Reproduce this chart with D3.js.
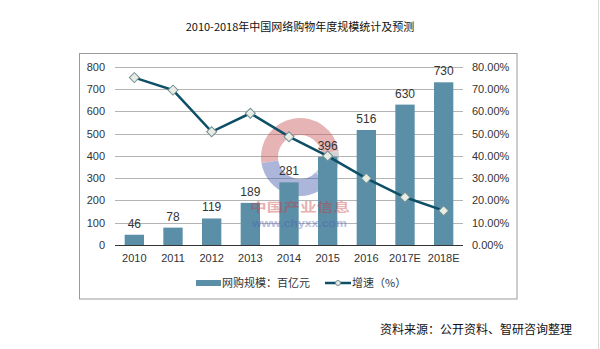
<!DOCTYPE html>
<html><head><meta charset="utf-8">
<script src="https://cdn.jsdelivr.net/npm/d3@7"></script>
<style>body{margin:0;background:#fff}svg{display:block}</style>
</head><body>
<svg id="c" width="600" height="349"></svg>
<script>
const categories = ["2010","2011","2012","2013","2014","2015","2016","2017E","2018E"];
const scaleValues = [46,78,119,189,281,396,516,630,730];
const growthValues = [75.1,69.5,50.8,59.1,48.6,39.9,29.9,21.4,15.4];
const leftTicks = [0,100,200,300,400,500,600,700,800];
const rightTicks = [0,10,20,30,40,50,60,70,80];
const title = "2010-2018年中国网络购物年度规模统计及预测";
const legendBar = "网购规模：百亿元";
const legendLine = "增速（%）";
const source = "资料来源：公开资料、智研咨询整理";

(function(){
const svg = d3.select("#c");
const font = "'Liberation Sans', Arial, sans-serif";
const cjk = "'Noto Sans CJK SC', sans-serif";
const pLeft = 115, pRight = 463, pTop = 66.7, pBottom = 245;

// page border at right
svg.append("line").attr("x1",598.5).attr("x2",598.5).attr("y1",0).attr("y2",349).attr("stroke","#d8d8d8");

svg.append("text").attr("x",300).attr("y",31).attr("text-anchor","middle")
  .attr("font-family",cjk).attr("font-size",11).attr("fill","#111").text(title);

svg.append("rect").attr("x",79.5).attr("y",53.5).attr("width",437.5).attr("height",245.5)
  .attr("fill","none").attr("stroke","#9a9a9a");

const x = d3.scaleBand().domain(categories).range([pLeft,pRight]).paddingInner(0.5).paddingOuter(0.25);
const yL = d3.scaleLinear().domain([0,800]).range([pBottom,pTop]);
const yR = d3.scaleLinear().domain([0,80]).range([pBottom,pTop]);

// gridlines
svg.append("g").selectAll("line").data(leftTicks.slice(1)).join("line")
  .attr("x1",pLeft).attr("x2",pRight).attr("y1",d=>Math.round(yL(d))+0.5).attr("y2",d=>Math.round(yL(d))+0.5)
  .attr("stroke","#b4b4b4");

// left axis labels
const gl = svg.append("g").attr("transform",`translate(${pLeft-10},0)`)
  .call(d3.axisLeft(yL).tickValues(leftTicks).tickSize(0).tickPadding(0));
gl.select(".domain").remove();
gl.selectAll("text").attr("font-family",font).attr("font-size",11).attr("fill","#333");

const gr = svg.append("g").attr("transform",`translate(${pRight+9},0)`)
  .call(d3.axisRight(yR).tickValues(rightTicks).tickSize(0).tickPadding(0).tickFormat(d=>d.toFixed(2)+"%"));
gr.select(".domain").remove();
gr.selectAll("text").attr("font-family",font).attr("font-size",11).attr("fill","#333");

// watermark ring
const wm = svg.append("g").attr("transform","translate(300,157)").attr("opacity",0.45);
const arc = d3.arc().innerRadius(22).outerRadius(39);
wm.append("path").attr("d",arc({startAngle:-Math.PI*0.55,endAngle:Math.PI*0.45})).attr("fill","#c85a5a");
wm.append("path").attr("d",arc({startAngle:-Math.PI*1.25,endAngle:-Math.PI*0.55})).attr("fill","#4a5fb0");
wm.append("path").attr("d",arc({startAngle:Math.PI*0.45,endAngle:Math.PI*0.75})).attr("fill","#a0a0a0");

// bars
svg.append("g").selectAll("rect").data(categories).join("rect")
  .attr("x",d=>x(d)).attr("width",x.bandwidth())
  .attr("y",(d,i)=>yL(scaleValues[i])).attr("height",(d,i)=>pBottom-yL(scaleValues[i]))
  .attr("fill","#5b8fa8");

// baseline axis
svg.append("line").attr("x1",pLeft).attr("x2",pRight).attr("y1",pBottom+0.5).attr("y2",pBottom+0.5).attr("stroke","#333");

// x labels
const gx = svg.append("g").attr("transform",`translate(0,${pBottom})`)
  .call(d3.axisBottom(x).tickSize(0).tickPadding(9));
gx.select(".domain").remove();
gx.selectAll("text").attr("font-family",font).attr("font-size",11).attr("fill","#333");

// bar labels
svg.append("g").selectAll("text").data(categories).join("text")
  .attr("x",d=>x(d)+x.bandwidth()/2).attr("y",(d,i)=>yL(scaleValues[i])-7)
  .attr("text-anchor","middle").attr("font-family",font).attr("font-size",12).attr("fill","#333")
  .text((d,i)=>scaleValues[i]);

// watermark text
const wt = svg.append("g").attr("opacity",0.4);
wt.append("text").attr("x",250).attr("y",211.5).attr("font-family",cjk)
  .attr("font-size",12.5).attr("font-weight","bold").attr("fill","#c83c3c")
  .attr("textLength",100).attr("lengthAdjust","spacingAndGlyphs").text("中国产业信息");
wt.append("text").attr("x",252).attr("y",227).attr("font-family",font)
  .attr("font-size",11).attr("font-weight","bold").attr("fill","#4a5fb0")
  .attr("textLength",95).attr("lengthAdjust","spacingAndGlyphs").text("www.chyxx.com");

// line
const cx = d=>x(d)+x.bandwidth()/2;
const line = d3.line().x((d,i)=>cx(categories[i])).y(d=>yR(d));
svg.append("path").datum(growthValues).attr("d",line).attr("fill","none").attr("stroke","#0d4f66").attr("stroke-width",2.5);
const diamond = d3.symbol().type(d3.symbolSquare).size(50);
svg.append("g").selectAll("path").data(growthValues).join("path")
  .attr("d",diamond).attr("transform",(d,i)=>`translate(${cx(categories[i])},${yR(d)}) rotate(45)`)
  .attr("fill","#e9ece2").attr("stroke","#6f8f96").attr("stroke-width",1);

// legend
const ly = 283;
svg.append("rect").attr("x",196).attr("y",ly-3).attr("width",25).attr("height",6).attr("fill","#5b8fa8");
svg.append("text").attr("x",222).attr("y",ly+4).attr("font-family",cjk).attr("font-size",11).attr("fill","#333").text(legendBar);
svg.append("line").attr("x1",325).attr("x2",351).attr("y1",ly).attr("y2",ly).attr("stroke","#0d4f66").attr("stroke-width",2.5);
svg.append("circle").attr("cx",338).attr("cy",ly).attr("r",2.5).attr("fill","#e9ece2").attr("stroke","#6f8f96");
svg.append("text").attr("x",352).attr("y",ly+4).attr("font-family",cjk).attr("font-size",11).attr("fill","#333").text(legendLine);

svg.append("text").attr("x",572).attr("y",334).attr("text-anchor","end").attr("font-family",cjk)
  .attr("font-size",12).attr("fill","#111").text(source);
})();
</script>
</body></html>
